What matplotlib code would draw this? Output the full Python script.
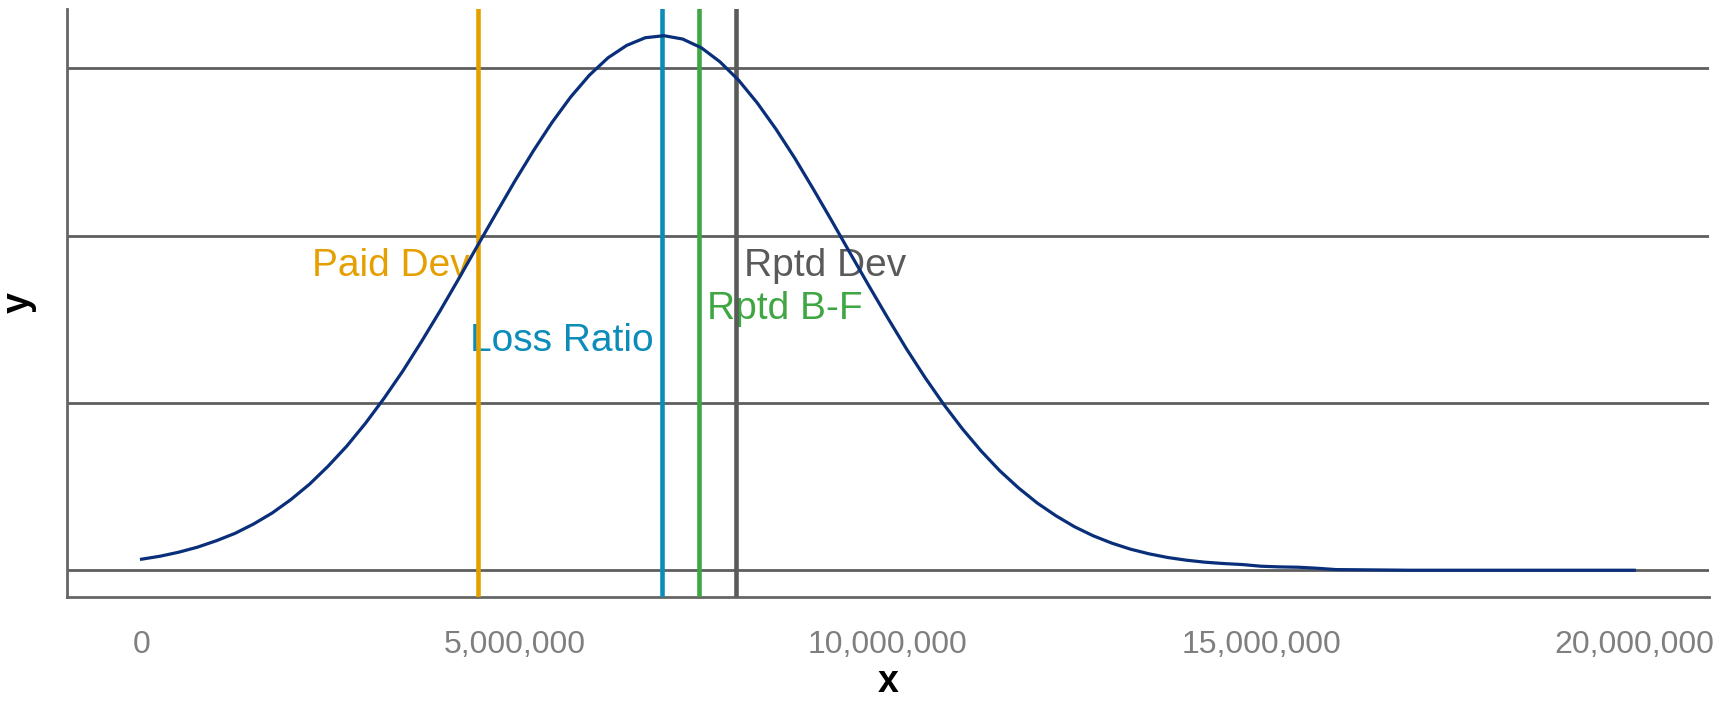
import numpy as np
import matplotlib
matplotlib.use("Agg")
import matplotlib.pyplot as plt
from matplotlib.ticker import FuncFormatter

# density curve (x in millions, density in units of 1e-9)
x_mill = [0.00, 0.25, 0.50, 0.75, 1.00, 1.25, 1.50, 1.75, 2.00, 2.25,
          2.50, 2.75, 3.00, 3.25, 3.50, 3.75, 4.00, 4.25, 4.50, 4.75,
          5.00, 5.25, 5.50, 5.75, 6.00, 6.25, 6.50, 6.75, 7.00, 7.25,
          7.50, 7.75, 8.00, 8.25, 8.50, 8.75, 9.00, 9.25, 9.50, 9.75,
          10.00, 10.25, 10.50, 10.75, 11.00, 11.25, 11.50, 11.75, 12.00, 12.25,
          12.50, 12.75, 13.00, 13.25, 13.50, 13.75, 14.00, 14.25, 14.50, 14.75,
          15.00, 15.25, 15.50, 15.75, 16.00, 17.00, 18.00, 19.00, 20.00]
dens_e9 = [3.3, 4.2, 5.4, 6.9, 8.8, 11.0, 13.8, 17.1, 21.1, 25.7,
           31.1, 37.1, 43.9, 51.4, 59.5, 68.3, 77.5, 87.1, 96.9, 106.6,
           116.2, 125.3, 133.8, 141.4, 147.9, 153.1, 156.8, 159.1, 159.7, 158.7,
           156.1, 151.9, 146.4, 139.6, 131.8, 123.2, 113.9, 104.3, 94.5, 84.8,
           75.3, 66.1, 57.5, 49.5, 42.2, 35.6, 29.7, 24.6, 20.1, 16.3,
           13.0, 10.3, 8.1, 6.3, 4.9, 3.8, 3.0, 2.4, 2.0, 1.7,
           1.2, 1.0, 0.9, 0.6, 0.2, 0.0, 0.0, 0.0, 0.0]

# reference estimates
line_labels = ["Paid Dev", "Loss Ratio", "Rptd B-F", "Rptd Dev"]
line_x = [4503000, 6968000, 7468000, 7963000]
label_y = [9.1e-8, 6.85e-8, 7.8e-8, 9.1e-8]
line_colors = ["#E69F00", "#0B8CB9", "#3EA642", "#5A5A5A"]

x_breaks = [0, 5000000, 10000000, 15000000, 20000000]
y_breaks = [0, 5e-8, 1e-7, 1.5e-7]

plt.rcParams["font.family"] = ["Liberation Sans", "DejaVu Sans"]

x = np.array(x_mill) * 1e6
y = np.array(dens_e9) * 1e-9

fig = plt.figure(figsize=(17.34, 7.01), dpi=100)
ax = fig.add_axes([0.0386, 0.1484, 0.9469, 0.8388])

ax.plot(x, y, color="#0A2F7A", lw=2.3, zorder=4)

for lab, xv, yv, col in zip(line_labels, line_x, label_y, line_colors):
    ax.axvline(xv, color=col, lw=3.3, zorder=3)
    right = xv < 7000000
    ax.annotate(lab, (xv, yv), xytext=(-6 if right else 6, 0),
                textcoords="offset points", ha="right" if right else "left",
                va="center", color=col, fontsize=28, zorder=1)

ymax = max(y)
ax.set_xlim(-1000000, 21000000)
ax.set_ylim(-0.05 * ymax, 1.05 * ymax)

ax.set_xticks(x_breaks)
ax.xaxis.set_major_formatter(FuncFormatter(lambda v, p: f"{int(v):,}"))
ax.set_yticks(y_breaks)
ax.set_yticklabels([])
ax.tick_params(axis="both", length=0)
ax.tick_params(axis="x", labelsize=23, labelcolor="#7F7F7F", pad=24)

ax.grid(axis="y", color="#5E5E5E", lw=2)
ax.grid(axis="x", visible=False)
ax.set_axisbelow(True)

for side in ["top", "right"]:
    ax.spines[side].set_visible(False)
for side in ["left", "bottom"]:
    ax.spines[side].set_color("#666666")
    ax.spines[side].set_linewidth(2)

ax.set_xlabel("x", fontsize=27, fontweight="bold", labelpad=3)
ax.set_ylabel("y", fontsize=27, fontweight="bold", labelpad=18)

fig.savefig("out.png", dpi=100, facecolor="white")
